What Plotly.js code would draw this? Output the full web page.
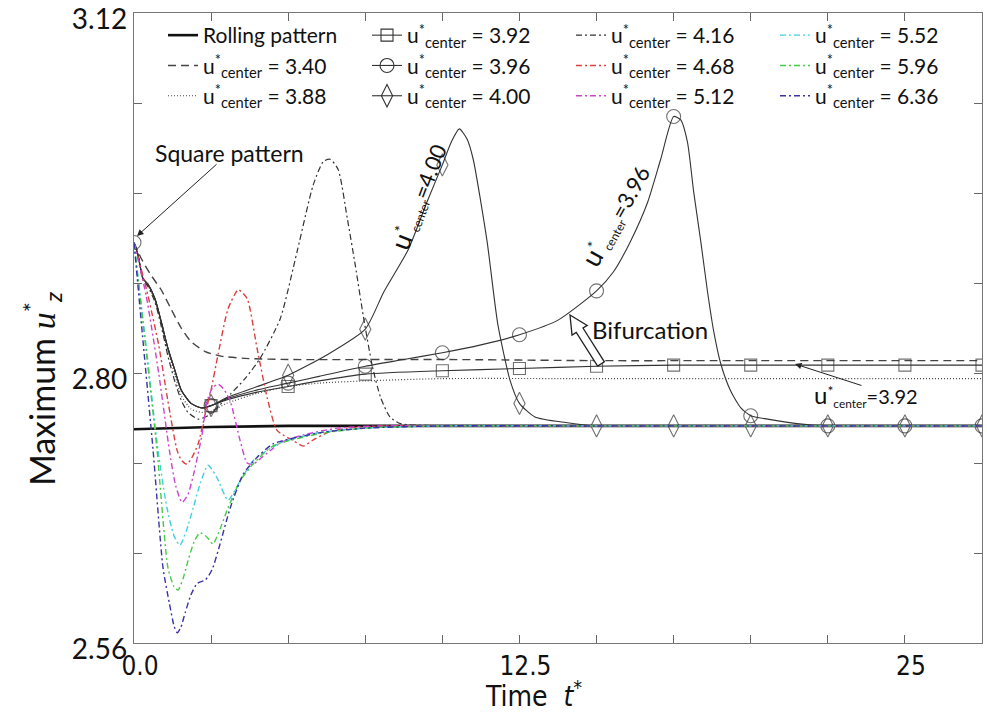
<!DOCTYPE html>
<html>
<head>
<meta charset="utf-8">
<script src="https://cdn.plot.ly/plotly-3.0.1.min.js"></script>
<style>html,body{margin:0;padding:0;background:#fff;}#chart{width:987px;height:713px;}</style>
</head>
<body>
<div id="chart"></div>
<script>
// ---------------- data ----------------
const tRolling = [0, 1, 2.5, 5, 10, 15, 20, 25, 27.5];
const yRolling = [2.750, 2.751, 2.752, 2.753, 2.753, 2.753, 2.753, 2.753, 2.753];

const t340 = [0, 0.23, 0.55, 0.88, 1.2, 1.53, 1.85, 2.31, 2.82, 3.6, 5, 10, 15, 20, 25, 27.5];
const y340 = [2.916, 2.902, 2.887, 2.874, 2.857, 2.840, 2.828, 2.819, 2.815, 2.813, 2.812, 2.812, 2.811, 2.811, 2.811, 2.811];

const t388 = [0, 0.13, 0.29, 0.45, 0.68, 0.88, 1.1, 1.33, 1.53, 1.85, 2.2, 2.5, 3, 4, 5, 6, 7.5, 10, 15, 20, 25, 27.5];
const y388 = [2.916, 2.904, 2.884, 2.878, 2.865, 2.845, 2.820, 2.798, 2.780, 2.768, 2.765, 2.766, 2.773, 2.782, 2.788, 2.791, 2.793, 2.795, 2.795, 2.795, 2.795, 2.795];

const t392 = [0, 0.13, 0.29, 0.45, 0.68, 0.88, 1.1, 1.33, 1.53, 1.85, 2.2, 2.5, 3, 4, 5, 6, 7.5, 10, 12.5, 15, 17.5, 20, 22.5, 25, 27.5];
const y392 = [2.916, 2.905, 2.884, 2.879, 2.866, 2.846, 2.822, 2.802, 2.785, 2.773, 2.769, 2.771, 2.776, 2.783, 2.788, 2.793, 2.799, 2.802, 2.804, 2.806, 2.807, 2.807, 2.807, 2.807, 2.807];

const t396 = [0, 0.13, 0.29, 0.45, 0.68, 0.88, 1.1, 1.33, 1.53, 1.85, 2.2, 2.5, 3, 4, 5, 6, 7.5, 8.75, 10, 11.25, 12.5, 13.75, 15, 15.55, 16.1, 16.66, 17.08, 17.5, 17.73, 17.95, 18.15, 18.38, 18.6, 18.8, 19.03, 19.35, 19.68, 20, 20.55, 21.5, 22.5, 25, 27.5];
const y396 = [2.916, 2.905, 2.884, 2.879, 2.866, 2.846, 2.822, 2.802, 2.785, 2.773, 2.769, 2.771, 2.777, 2.785, 2.791, 2.797, 2.806, 2.812, 2.818, 2.825, 2.834, 2.847, 2.873, 2.890, 2.917, 2.952, 2.990, 3.028, 3.025, 3.005, 2.961, 2.917, 2.872, 2.837, 2.808, 2.784, 2.769, 2.762, 2.759, 2.755, 2.753, 2.753, 2.753];

const t400 = [0, 0.13, 0.29, 0.45, 0.68, 0.88, 1.1, 1.33, 1.53, 1.85, 2.2, 2.5, 3, 4, 5, 6.25, 7.5, 8.1, 8.9, 9.5, 10, 10.3, 10.55, 10.8, 11.0, 11.45, 11.8, 12.2, 12.5, 13, 14, 15, 17.5, 20, 22.5, 25, 27.5];
const y400 = [2.916, 2.905, 2.884, 2.879, 2.866, 2.846, 2.822, 2.802, 2.785, 2.773, 2.769, 2.771, 2.778, 2.788, 2.798, 2.816, 2.839, 2.872, 2.910, 2.952, 2.985, 3.006, 3.017, 3.008, 2.990, 2.917, 2.843, 2.793, 2.773, 2.761, 2.756, 2.753, 2.753, 2.753, 2.753, 2.753, 2.753];

const t416 = [0, 0.13, 0.29, 0.45, 0.68, 0.88, 1.1, 1.33, 1.53, 1.75, 2.08, 2.4, 2.8, 3.12, 3.6, 4.09, 4.74, 5.29, 5.81, 6.14, 6.36, 6.62, 6.92, 7.18, 7.44, 7.73, 8.0, 8.3, 8.64, 10, 15, 20, 25, 27.5];
const y416 = [2.916, 2.904, 2.883, 2.877, 2.863, 2.842, 2.815, 2.792, 2.776, 2.765, 2.759, 2.762, 2.772, 2.781, 2.795, 2.813, 2.848, 2.908, 2.967, 2.988, 2.990, 2.981, 2.937, 2.895, 2.850, 2.806, 2.778, 2.761, 2.755, 2.753, 2.753, 2.753, 2.753, 2.753];

const t468 = [0, 0.4, 0.8, 1.1, 1.4, 1.55, 1.72, 1.9, 2.08, 2.31, 2.5, 2.73, 3.05, 3.38, 3.67, 3.99, 4.32, 4.64, 5.16, 5.49, 5.78, 6.27, 6.92, 8.21, 10, 15, 20, 25, 27.5];
const y468 = [2.916, 2.875, 2.825, 2.775, 2.731, 2.722, 2.719, 2.726, 2.737, 2.764, 2.785, 2.817, 2.857, 2.874, 2.866, 2.822, 2.778, 2.749, 2.740, 2.735, 2.740, 2.747, 2.751, 2.753, 2.753, 2.753, 2.753, 2.753, 2.753];

const t512 = [0, 0.4, 0.8, 1.15, 1.35, 1.56, 1.75, 1.95, 2.21, 2.37, 2.55, 2.73, 2.9, 3.12, 3.44, 3.67, 3.86, 4.19, 4.51, 4.74, 5.5, 6.6, 8, 10, 15, 20, 25, 27.5];
const y512 = [2.916, 2.868, 2.800, 2.731, 2.700, 2.685, 2.692, 2.712, 2.746, 2.775, 2.787, 2.790, 2.786, 2.775, 2.740, 2.720, 2.719, 2.726, 2.733, 2.738, 2.745, 2.751, 2.753, 2.753, 2.753, 2.753, 2.753, 2.753];

const t552 = [0, 0.4, 0.78, 1.07, 1.3, 1.49, 1.7, 1.92, 2.15, 2.4, 2.69, 3.05, 3.44, 3.86, 4.42, 4.74, 6, 7.5, 10, 15, 20, 25, 27.5];
const y552 = [2.916, 2.822, 2.731, 2.680, 2.655, 2.647, 2.660, 2.680, 2.702, 2.718, 2.707, 2.687, 2.704, 2.722, 2.733, 2.738, 2.747, 2.751, 2.753, 2.753, 2.753, 2.753, 2.753];

const t596 = [0, 0.4, 0.75, 1.1, 1.3, 1.43, 1.6, 1.75, 1.95, 2.14, 2.37, 2.56, 2.8, 3.02, 3.44, 3.86, 4.5, 6, 7.5, 10, 15, 20, 25, 27.5];
const y596 = [2.916, 2.818, 2.731, 2.627, 2.610, 2.607, 2.618, 2.633, 2.650, 2.658, 2.654, 2.648, 2.662, 2.678, 2.704, 2.719, 2.735, 2.746, 2.751, 2.753, 2.753, 2.753, 2.753, 2.753];

const t636 = [0, 0.3, 0.62, 0.94, 1.15, 1.3, 1.4, 1.52, 1.66, 1.85, 2.05, 2.31, 2.53, 2.79, 3.12, 3.54, 3.99, 4.51, 6.04, 7.5, 10, 15, 20, 25, 27.5];
const y636 = [2.916, 2.826, 2.731, 2.627, 2.595, 2.575, 2.569, 2.574, 2.587, 2.603, 2.613, 2.616, 2.625, 2.648, 2.680, 2.710, 2.725, 2.737, 2.747, 2.751, 2.753, 2.753, 2.753, 2.753, 2.753];

const xTickVals = [0, 2.5, 5, 7.5, 10, 12.5, 15, 17.5, 20, 22.5, 25, 27.5];
const xTickText = ['0.0', '', '', '', '', '12.5', '', '', '', '', '25', ''];
const yTickVals = [2.56, 2.64, 2.72, 2.80, 2.88, 2.96, 3.04, 3.12];
const yTickText = ['2.56', '', '', '2.80', '', '', '', '3.12'];

// ---------------- helpers (styling) ----------------
const L = 134, R = 982, T = 13, B = 643;
const fx = X => (X - L) / (R - L);
const fy = Y => (B - Y) / (B - T);
const onStep = t => Math.abs(t / 2.5 - Math.round(t / 2.5)) < 1e-9;
const sizesFor = (ts, sz, from) => ts.map(t => (onStep(t) && t >= from) ? sz : 0);
const U = v => 'u<sup>*</sup><sub>center</sub> = ' + v;
const NB = n => '&nbsp;'.repeat(n);

const thin = '#333';
const DD = '6px,3px,2px,3px';
const traces = [];
function add(tr) { traces.push(tr); }

// marker-carrying curves: drawn without legend, legend entry given by a proxy entry
function markedCurve(ts, ys, name, rank, symbol, size, from) {
  const line = {color: thin, width: 1.1, shape: 'spline', smoothing: 0.6};
  add({x: ts, y: ys, name: name, mode: 'lines+markers', showlegend: false, legendgroup: name,
       line: line, marker: {symbol: symbol, size: sizesFor(ts, size, from), color: thin, line: {width: 1.1, color: thin}}});
  add({x: [null], y: [null], name: name, mode: 'lines+markers', legendrank: rank, legendgroup: name,
       line: {color: thin, width: 1.1}, marker: {symbol: symbol, size: size, color: thin, line: {width: 1.1, color: thin}}});
}

add({x: tRolling, y: yRolling, name: 'Rolling pattern', mode: 'lines', legendrank: 1,
     line: {color: '#111', width: 2.6}});
add({x: t340, y: y340, name: U('3.40'), mode: 'lines', legendrank: 5,
     line: {color: '#444', width: 1.4, dash: '8px,5px', shape: 'spline', smoothing: 0.6}});
add({x: t388, y: y388, name: U('3.88'), mode: 'lines', legendrank: 9,
     line: {color: '#444', width: 1.2, dash: '1px,2px', shape: 'spline', smoothing: 0.6}});
markedCurve(t392, y392, U('3.92'), 2, 'square-open', 12, 2.5);
markedCurve(t396, y396, U('3.96'), 6, 'circle-open', 14, 0);
markedCurve(t400, y400, U('4.00'), 10, 'diamond-tall-open', 16, 2.5);
add({x: t416, y: y416, name: U('4.16'), mode: 'lines', legendrank: 3,
     line: {color: '#333', width: 1.2, dash: DD, shape: 'spline', smoothing: 0.6}});
add({x: t468, y: y468, name: U('4.68'), mode: 'lines', legendrank: 7,
     line: {color: '#d9403f', width: 1.4, dash: DD, shape: 'spline', smoothing: 0.6}});
add({x: t512, y: y512, name: U('5.12'), mode: 'lines', legendrank: 11,
     line: {color: '#cc44cc', width: 1.4, dash: DD, shape: 'spline', smoothing: 0.6}});
add({x: t552, y: y552, name: U('5.52'), mode: 'lines', legendrank: 4,
     line: {color: '#40cfe0', width: 1.4, dash: DD, shape: 'spline', smoothing: 0.6}});
add({x: t596, y: y596, name: U('5.96'), mode: 'lines', legendrank: 8,
     line: {color: '#45cc45', width: 1.4, dash: DD, shape: 'spline', smoothing: 0.6}});
add({x: t636, y: y636, name: U('6.36'), mode: 'lines', legendrank: 12,
     line: {color: '#3a32a8', width: 1.4, dash: DD, shape: 'spline', smoothing: 0.6}});

// hollow "Bifurcation" arrow, built in pixel space then mapped to paper
function blockArrow(tip, tail, headLen, headHalf, shaftHalf) {
  const dx = tail[0] - tip[0], dy = tail[1] - tip[1];
  const len = Math.hypot(dx, dy), ux = dx / len, uy = dy / len, px = -uy, py = ux;
  const b = [tip[0] + ux * headLen, tip[1] + uy * headLen];
  const pts = [
    tip,
    [b[0] - px * headHalf, b[1] - py * headHalf],
    [b[0] - px * shaftHalf, b[1] - py * shaftHalf],
    [tail[0] - px * shaftHalf, tail[1] - py * shaftHalf],
    [tail[0] + px * shaftHalf, tail[1] + py * shaftHalf],
    [b[0] + px * shaftHalf, b[1] + py * shaftHalf],
    [b[0] + px * headHalf, b[1] + py * headHalf]
  ];
  return 'M' + pts.map(p => fx(p[0]).toFixed(5) + ',' + fy(p[1]).toFixed(5)).join('L') + 'Z';
}

const uLab = v => '<span style="font-size:27px">u</span><sup>*</sup><span style="font-size:17px"><sub>center</sub></span>=' + v;
const txt = (X, Y, text, size, extra) => Object.assign({
  xref: 'paper', yref: 'paper', x: fx(X), y: fy(Y), xanchor: 'center', yanchor: 'middle',
  text: text, showarrow: false, font: {size: size, family: 'Lato, sans-serif', color: '#111'}
}, extra || {});
const arrow = (X, Y, ax, ay) => ({
  xref: 'paper', yref: 'paper', x: fx(X), y: fy(Y), ax: ax, ay: ay, text: '', showarrow: true,
  arrowhead: 2, arrowsize: 1.3, arrowwidth: 1, arrowcolor: '#222'
});

const layout = {
  width: 987, height: 713,
  margin: {l: L, r: 987 - R, t: T, b: 713 - B, pad: 0},
  paper_bgcolor: '#fff', plot_bgcolor: '#fff',
  font: {family: 'Lato, "Open Sans", sans-serif', color: '#111'},
  showlegend: true,
  legend: {
    orientation: 'h', x: fx(163), y: fy(15), xanchor: 'left', yanchor: 'top',
    entrywidth: 159, entrywidthmode: 'pixels',
    bgcolor: 'rgba(0,0,0,0)', borderwidth: 0, itemsizing: 'trace',
    font: {family: 'Lato, sans-serif', size: 21, color: '#111'},
    tracegroupgap: 0
  },
  xaxis: {
    range: [0, 27.5], tickmode: 'array', tickvals: xTickVals, ticktext: xTickText,
    ticks: 'inside', ticklen: 8, tickcolor: '#666', mirror: 'ticks',
    showline: true, linecolor: '#777', linewidth: 1.2, showgrid: false, zeroline: false,
    ticklabeloverflow: 'allow', ticklabelshift: 6,
    tickfont: {family: '"Liberation Sans Narrow", "DejaVu Sans Condensed", "Liberation Sans", sans-serif', size: 26, color: '#111'},
    title: {text: 'Time  <i>t</i><sup>*</sup>' + NB(6), standoff: 7,
            font: {family: '"Liberation Sans Narrow", "DejaVu Sans Condensed", "Liberation Sans", sans-serif', size: 28, color: '#111'}}
  },
  yaxis: {
    range: [2.56, 3.12], tickmode: 'array', tickvals: yTickVals, ticktext: yTickText,
    ticks: 'inside', ticklen: 8, tickcolor: '#666', mirror: 'ticks',
    showline: true, linecolor: '#777', linewidth: 1.2, showgrid: false, zeroline: false,
    ticklabeloverflow: 'allow', ticklabelshift: 6,
    tickfont: {family: 'Lato, sans-serif', size: 28, color: '#111'},
    title: {text: 'Maximum <span style="font-family:\'Liberation Serif\',serif"><i>u</i></span><sup>*</sup><sub><i>z</i></sub>' + NB(14),
            standoff: 6, font: {family: 'Lato, sans-serif', size: 34, color: '#111'}}
  },
  shapes: [{
    type: 'path', xref: 'paper', yref: 'paper',
    path: blockArrow([570, 315], [601, 364], 18, 9, 4),
    line: {color: '#222', width: 1.3}, fillcolor: '#fff'
  }],
  annotations: [
    txt(229, 153, 'Square pattern', 23),
    arrow(137, 236, 81, -73),
    txt(418, 197, uLab('4.00'), 22, {textangle: -69}),
    txt(615, 216, uLab('3.96'), 22, {textangle: -61}),
    txt(650, 329, 'Bifurcation', 24),
    txt(866, 395, '<span style="font-size:24px">u</span><sup>*</sup><span style="font-size:17px"><sub>center</sub></span>=3.92', 20),
    arrow(795, 364, 68, 22)
  ]
};

Plotly.newPlot('chart', traces, layout, {displayModeBar: false, staticPlot: true});
</script>
</body>
</html>
